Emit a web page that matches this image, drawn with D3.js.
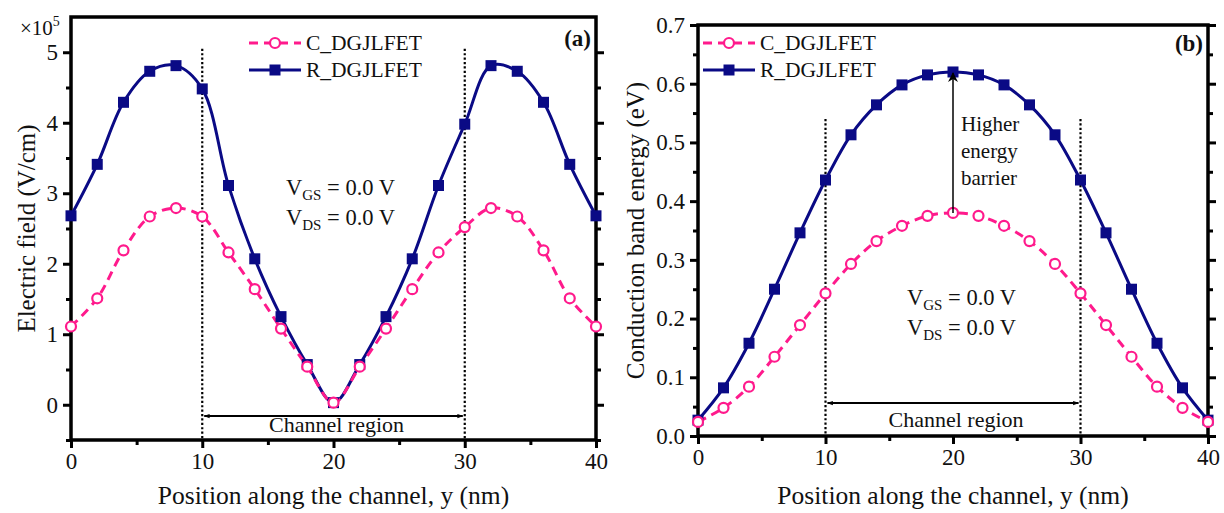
<!DOCTYPE html>
<html>
<head>
<meta charset="utf-8">
<script src="https://cdn.jsdelivr.net/npm/d3@7"></script>
<style>
  body { margin: 0; background: #fff; }
  svg text { font-family: "Liberation Serif", "Times New Roman", serif; fill: #111; }
</style>
</head>
<body>
<svg id="chart" width="1224" height="513" font-family="Liberation Serif"></svg>
<script>
// positions along the channel (nm), markers every 2 nm
var position = [0, 2, 4, 6, 8, 10, 12, 14, 16, 18, 20, 22, 24, 26, 28, 30, 32, 34, 36, 38, 40];

// (a) electric field, x10^5 V/cm
var fieldC = [1.11, 1.51, 2.19, 2.67, 2.79, 2.67, 2.16, 1.64, 1.08, 0.54, 0.03,
              0.54, 1.08, 1.64, 2.16, 2.52, 2.79, 2.67, 2.19, 1.51, 1.11];
var fieldR = [2.68, 3.41, 4.29, 4.73, 4.81, 4.48, 3.11, 2.07, 1.25, 0.57, 0.03,
              0.57, 1.25, 2.07, 3.11, 3.98, 4.81, 4.73, 4.29, 3.41, 2.68];

// (b) conduction band energy, eV
var energyC = [0.024, 0.048, 0.084, 0.135, 0.189, 0.243, 0.293, 0.332, 0.358, 0.375, 0.380,
               0.375, 0.358, 0.332, 0.293, 0.243, 0.189, 0.135, 0.084, 0.048, 0.024];
var energyR = [0.027, 0.082, 0.158, 0.250, 0.346, 0.436, 0.513, 0.564, 0.598, 0.615, 0.620,
               0.615, 0.598, 0.564, 0.513, 0.436, 0.346, 0.250, 0.158, 0.082, 0.027];

var seriesNames = ["C_DGJLFET", "R_DGJLFET"];
var xTicks = [0, 10, 20, 30, 40];
var fieldTicks = [0, 1, 2, 3, 4, 5];
var energyTicks = [0.0, 0.1, 0.2, 0.3, 0.4, 0.5, 0.6, 0.7];
var channelEdges = [10, 30];

var pink = "#ff1a8c",
    navy = "#0a0a85";

var svg = d3.select("#chart");

var defs = svg.append("defs");
defs.append("marker")
  .attr("id", "head")
  .attr("viewBox", "0 0 10 10")
  .attr("refX", 9).attr("refY", 5)
  .attr("markerWidth", 7).attr("markerHeight", 6)
  .attr("markerUnits", "userSpaceOnUse")
  .attr("orient", "auto-start-reverse")
  .append("path")
  .attr("d", "M0,1.5 L10,5 L0,8.5 Z")
  .attr("fill", "#000");
defs.append("marker")
  .attr("id", "bigHead")
  .attr("viewBox", "0 0 10 10")
  .attr("refX", 9).attr("refY", 5)
  .attr("markerWidth", 12).attr("markerHeight", 10)
  .attr("markerUnits", "userSpaceOnUse")
  .attr("orient", "auto")
  .append("path")
  .attr("d", "M0,0 L10,5 L0,10 L3,5 Z")
  .attr("fill", "#000");

function drawPanel(p) {
  var x = d3.scaleLinear().domain([0, 40]).range(p.xRange),
      y = d3.scaleLinear().domain(p.yDomain).range(p.yRange);
  var g = svg.append("g");

  // minor ticks
  var xMinor = d3.range(5, 40, 10),
      yMinor = p.yMinor;

  g.append("g")
    .attr("transform", "translate(0," + p.yRange[0] + ")")
    .call(d3.axisBottom(x).tickValues(xMinor).tickSize(5).tickFormat(""))
    .call(function(a) { a.select(".domain").remove(); a.selectAll("line").attr("stroke-width", 3); });
  g.append("g")
    .attr("transform", "translate(" + p.xRange[0] + ",0)")
    .call(d3.axisLeft(y).tickValues(yMinor).tickSize(5).tickFormat(""))
    .call(function(a) { a.select(".domain").remove(); a.selectAll("line").attr("stroke-width", 3); });
  g.append("g")
    .attr("transform", "translate(" + p.xRange[1] + ",0)")
    .call(d3.axisLeft(y).tickValues(yMinor).tickSize(5).tickFormat(""))
    .call(function(a) { a.select(".domain").remove(); a.selectAll("line").attr("stroke-width", 3).attr("transform", "translate(5,0)"); });

  // major ticks + labels
  var bottom = g.append("g")
    .attr("transform", "translate(0," + p.yRange[0] + ")")
    .call(d3.axisBottom(x).tickValues(xTicks).tickSize(8).tickPadding(5));
  var left = g.append("g")
    .attr("transform", "translate(" + p.xRange[0] + ",0)")
    .call(d3.axisLeft(y).tickValues(p.yTicks).tickSize(8).tickPadding(5).tickFormat(p.yFormat));
  var right = g.append("g")
    .attr("transform", "translate(" + p.xRange[1] + ",0)")
    .call(d3.axisLeft(y).tickValues(p.yTicks).tickSize(8).tickFormat(""));
  right.selectAll("line").attr("transform", "translate(8,0)");
  [bottom, left, right].forEach(function(a) {
    a.attr("font-family", null).attr("font-size", null);
    a.select(".domain").remove();
    a.selectAll("line").attr("stroke-width", 3);
    a.selectAll("text").attr("font-size", 23).attr("fill", "#111");
  });

  // frame
  g.append("rect")
    .attr("x", p.xRange[0]).attr("y", p.yRange[1])
    .attr("width", p.xRange[1] - p.xRange[0])
    .attr("height", p.yRange[0] - p.yRange[1])
    .attr("fill", "none").attr("stroke", "#000").attr("stroke-width", 3.5);

  // channel edges
  g.selectAll(null)
    .data(channelEdges)
    .enter().append("line")
    .attr("x1", function(d) { return x(d); }).attr("x2", function(d) { return x(d); })
    .attr("y1", y(p.edgeTop)).attr("y2", p.yRange[0])
    .attr("stroke", "#000").attr("stroke-width", 2.2).attr("stroke-dasharray", "2.2,2.2");

  // channel region arrow
  g.append("line")
    .attr("x1", x(10) + 2).attr("x2", x(30) - 2)
    .attr("y1", y(p.arrowY)).attr("y2", y(p.arrowY))
    .attr("stroke", "#000").attr("stroke-width", 2)
    .attr("marker-start", "url(#head)").attr("marker-end", "url(#head)");
  g.append("text")
    .attr("x", x(20) + 3).attr("y", p.regionTextY)
    .attr("text-anchor", "middle").attr("font-size", 22)
    .text("Channel region");

  // curves
  var line = d3.line()
    .x(function(d, i) { return x(position[i]); })
    .y(function(d) { return y(d); })
    .curve(d3.curveCatmullRom.alpha(0.5));

  g.append("path")
    .attr("d", line(p.r))
    .attr("fill", "none").attr("stroke", navy).attr("stroke-width", 3);
  g.append("path")
    .attr("d", line(p.c))
    .attr("fill", "none").attr("stroke", pink).attr("stroke-width", 3)
    .attr("stroke-dasharray", "9,6");

  g.selectAll(null)
    .data(p.r)
    .enter().append("rect")
    .attr("x", function(d, i) { return x(position[i]) - 5.5; })
    .attr("y", function(d) { return y(d) - 5.5; })
    .attr("width", 11).attr("height", 11)
    .attr("fill", navy);
  g.selectAll(null)
    .data(p.c)
    .enter().append("circle")
    .attr("cx", function(d, i) { return x(position[i]); })
    .attr("cy", function(d) { return y(d); })
    .attr("r", 5)
    .attr("fill", "#fff").attr("stroke", pink).attr("stroke-width", 2.2);

  // legend
  var lg = g.append("g").attr("transform", "translate(" + p.legend[0] + "," + p.legend[1] + ")");
  lg.append("line").attr("x1", 0).attr("x2", 52).attr("y1", 0).attr("y2", 0)
    .attr("stroke", pink).attr("stroke-width", 3).attr("stroke-dasharray", "9,6");
  lg.append("circle").attr("cx", 26).attr("cy", 0).attr("r", 5)
    .attr("fill", "#fff").attr("stroke", pink).attr("stroke-width", 2.2);
  lg.append("line").attr("x1", 0).attr("x2", 52).attr("y1", 27).attr("y2", 27)
    .attr("stroke", navy).attr("stroke-width", 3);
  lg.append("rect").attr("x", 20.5).attr("y", 21.5).attr("width", 11).attr("height", 11).attr("fill", navy);
  lg.selectAll(null)
    .data(seriesNames)
    .enter().append("text")
    .attr("x", 57).attr("y", function(d, i) { return i * 27 + 7; })
    .attr("font-size", 21.5)
    .text(function(d) { return d; });

  // panel label
  g.append("text")
    .attr("x", p.xRange[1] - 5).attr("y", p.labelY)
    .attr("text-anchor", "end").attr("font-size", 23).attr("font-weight", "bold")
    .text(p.label);

  // bias text
  var bias = g.append("g").attr("font-size", 22.5);
  [["GS", 0], ["DS", 30]].forEach(function(b) {
    var t = bias.append("text").attr("x", p.bias[0]).attr("y", p.bias[1] + b[1]);
    t.append("tspan").text("V");
    t.append("tspan").attr("font-size", 15).attr("dy", 5).text(b[0]);
    t.append("tspan").attr("dy", -5).text(" = 0.0 V");
  });

  // axis titles
  g.append("text")
    .attr("x", (p.xRange[0] + p.xRange[1]) / 2).attr("y", 504)
    .attr("text-anchor", "middle").attr("font-size", 25.5)
    .text("Position along the channel, y (nm)");
  g.append("text")
    .attr("transform", "translate(" + p.yTitleX + "," + (p.yRange[0] + p.yRange[1]) / 2 + ") rotate(-90)")
    .attr("text-anchor", "middle").attr("font-size", 25)
    .text(p.yTitle);

  return {x: x, y: y, g: g};
}

var a = drawPanel({
  xRange: [71, 596], yDomain: [-0.5, 5.5], yRange: [440, 17],
  yTicks: fieldTicks, yMinor: d3.range(-0.5, 5.5, 1), yFormat: d3.format("d"),
  c: fieldC, r: fieldR, edgeTop: 5.05, arrowY: -0.16, regionTextY: 432,
  legend: [249, 43], label: "(a)", labelY: 46, bias: [286, 195],
  yTitle: "Electric field (V/cm)", yTitleX: 35
});

var b = drawPanel({
  xRange: [698, 1208], yDomain: [0, 0.7], yRange: [436, 25],
  yTicks: energyTicks, yMinor: d3.range(0.05, 0.7, 0.1), yFormat: d3.format(".1f"),
  c: energyC, r: energyR, edgeTop: 0.54, arrowY: 0.056, regionTextY: 427,
  legend: [703, 43], label: "(b)", labelY: 51, bias: [907, 305],
  yTitle: "Conduction band energy (eV)", yTitleX: 644
});

// x10^5 multiplier
var mult = a.g.append("text").attr("x", 20).attr("y", 35).attr("font-size", 21);
mult.append("tspan").text("\u00d710");
mult.append("tspan").attr("font-size", 14).attr("dy", -9).text("5");

// higher energy barrier annotation
b.g.append("line")
  .attr("x1", b.x(20)).attr("x2", b.x(20))
  .attr("y1", b.y(energyC[10])).attr("y2", b.y(energyR[10]) + 1)
  .attr("stroke", "#000").attr("stroke-width", 1.5)
  .attr("marker-end", "url(#bigHead)");
var note = b.g.append("text").attr("font-size", 21);
["Higher", "energy", "barrier"].forEach(function(w, i) {
  note.append("tspan").attr("x", 961).attr("y", 131 + i * 27).text(w);
});
</script>
</body>
</html>
